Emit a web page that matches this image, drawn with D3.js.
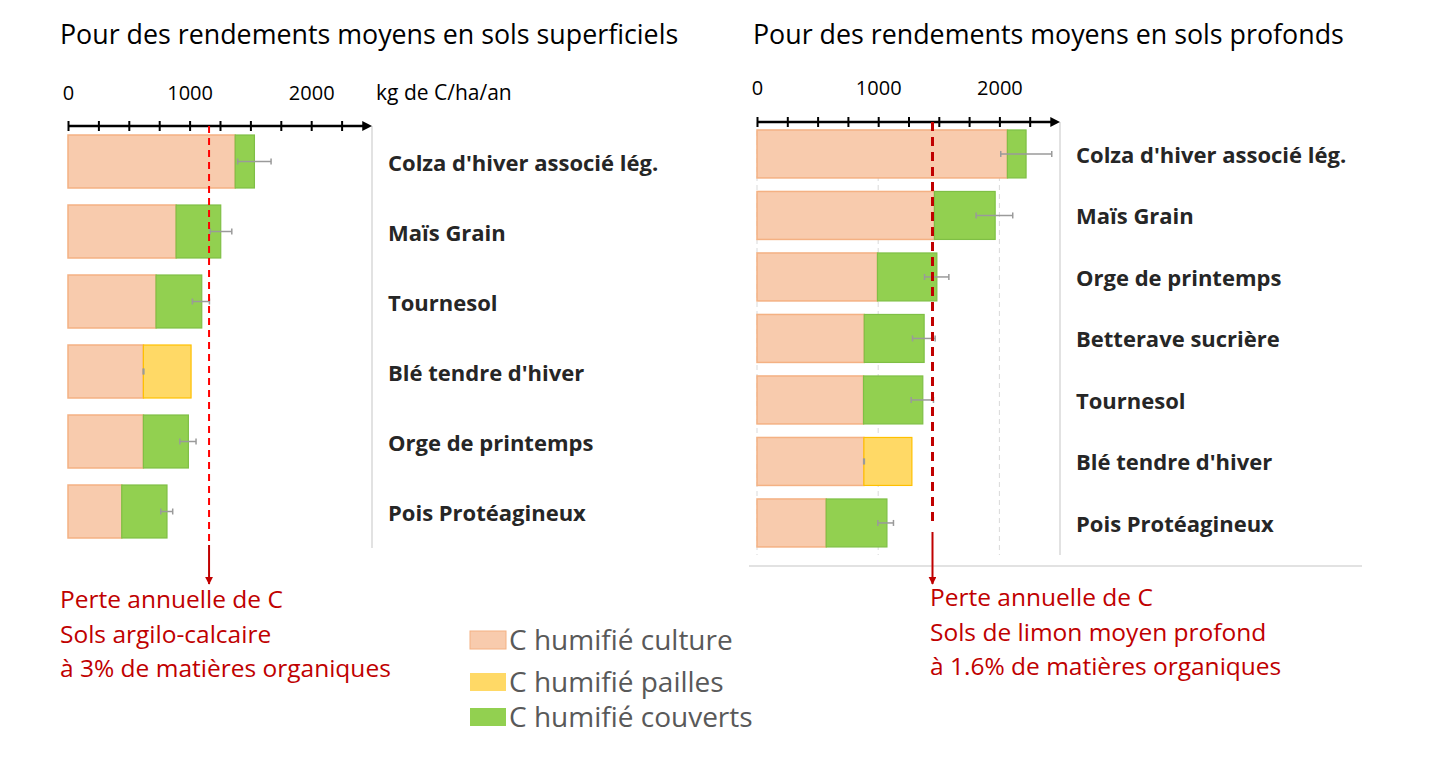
<!DOCTYPE html>
<html>
<head>
<meta charset="utf-8">
<script src="https://cdn.jsdelivr.net/npm/d3@7"></script>
<style>
  body { margin: 0; background: #fff; }
  text { font-family: "Open Sans", "Noto Sans", sans-serif; }
</style>
</head>
<body>
<div id="container"></div>
<script>
/* DATA */
const leftTitle = "Pour des rendements moyens en sols superficiels";
const rightTitle = "Pour des rendements moyens en sols profonds";
const unitLabel = "kg de C/ha/an";

const leftCrops = ["Colza d'hiver associé lég.", "Maïs Grain", "Tournesol", "Blé tendre d'hiver", "Orge de printemps", "Pois Protéagineux"];
const leftCulture = [1375, 889, 724, 620, 620, 442];
const leftPailles = [0, 0, 0, 392, 0, 0];
const leftCouverts = [158, 367, 376, 0, 370, 372];
const leftErrLow = [1395, 1169, 1023, 618, 920, 763];
const leftErrHigh = [1670, 1347, 1163, 624, 1053, 861];
const leftLoss = 1160;
const leftNote = ["Perte annuelle de C", "Sols argilo-calcaire", "à 3% de matières organiques"];

const rightCrops = ["Colza d'hiver associé lég.", "Maïs Grain", "Orge de printemps", "Betterave sucrière", "Tournesol", "Blé tendre d'hiver", "Pois Protéagineux"];
const rightCulture = [2066, 1464, 994, 885, 879, 882, 571];
const rightPailles = [0, 0, 0, 0, 0, 396, 0];
const rightCouverts = [154, 501, 490, 494, 489, 0, 501];
const rightErrLow = [2011, 1808, 1382, 1283, 1272, 880, 997];
const rightErrHigh = [2432, 2110, 1583, 1470, 1456, 886, 1126];
const rightLoss = 1448;
const rightNote = ["Perte annuelle de C", "Sols de limon moyen profond", "à 1.6% de matières organiques"];

const tickLabels = [0, 1000, 2000];
const minorTicks = d3.range(0, 2251, 250);
const legendLabels = ["C humifié culture", "C humifié pailles", "C humifié couverts"];

/* CONSTANTS */
const width = 1452, height = 764;
const colors = {
  culture: "#f8cbad", cultureStroke: "#f4b183",
  pailles: "#ffd966", paillesStroke: "#ffc000",
  couverts: "#92d050", couvertsStroke: "#7fbf45"
};

const svg = d3.select("#container")
  .append("svg")
  .attr("width", width)
  .attr("height", height);

svg.append("defs").append("marker")
  .attr("id", "arrowRed")
  .attr("viewBox", "0 0 10 10")
  .attr("refX", 9).attr("refY", 5)
  .attr("markerWidth", 4).attr("markerHeight", 4)
  .attr("orient", "auto")
  .append("path")
  .attr("d", "M0,0 L10,5 L0,10 z")
  .attr("fill", "#c00000");

function drawPanel(cfg) {
  const x = d3.scaleLinear().domain([0, 2500]).range([cfg.x0, cfg.x1]);
  const y = d3.scaleBand()
    .domain(cfg.crops)
    .range([cfg.yTop, cfg.yTop + cfg.step * cfg.crops.length])
    .paddingInner(cfg.pad)
    .paddingOuter(cfg.pad / 2);

  const g = svg.append("g");

  // title
  g.append("text")
    .attr("x", cfg.titleX).attr("y", 44)
    .attr("font-size", 26.8)
    .attr("fill", "#000")
    .text(cfg.title);

  // grid (right panel only)
  if (cfg.grid) {
    g.selectAll(".grid")
      .data(tickLabels)
      .join("line")
      .attr("x1", d => x(d)).attr("x2", d => x(d))
      .attr("y1", cfg.axisY).attr("y2", cfg.frameBottom)
      .attr("stroke", "#d9d9d9")
      .attr("stroke-dasharray", "5,4");
  }

  // frame line on the right
  g.append("line")
    .attr("x1", x(2500)).attr("x2", x(2500))
    .attr("y1", cfg.axisY).attr("y2", cfg.frameBottom)
    .attr("stroke", "#d9d9d9").attr("stroke-width", 1.5);

  if (cfg.hline) {
    g.append("line")
      .attr("x1", cfg.hline[0]).attr("x2", cfg.hline[1])
      .attr("y1", cfg.hline[2]).attr("y2", cfg.hline[2])
      .attr("stroke", "#d9d9d9").attr("stroke-width", 1.5);
  }

  // BARS
  const rows = cfg.crops.map((c, i) => ({
    crop: c,
    culture: cfg.culture[i],
    pailles: cfg.pailles[i],
    couverts: cfg.couverts[i],
    lo: cfg.errLow[i],
    hi: cfg.errHigh[i]
  }));

  const bar = g.selectAll(".row")
    .data(rows)
    .join("g")
    .attr("class", "row");

  bar.append("rect")
    .attr("x", x(0))
    .attr("y", d => y(d.crop))
    .attr("width", d => x(d.culture) - x(0))
    .attr("height", y.bandwidth())
    .attr("fill", colors.culture)
    .attr("stroke", colors.cultureStroke)
    .attr("stroke-width", 1.5);

  bar.filter(d => d.pailles > 0).append("rect")
    .attr("x", d => x(d.culture))
    .attr("y", d => y(d.crop))
    .attr("width", d => x(d.culture + d.pailles) - x(d.culture))
    .attr("height", y.bandwidth())
    .attr("fill", colors.pailles)
    .attr("stroke", colors.paillesStroke)
    .attr("stroke-width", 1.2);

  bar.filter(d => d.couverts > 0).append("rect")
    .attr("x", d => x(d.culture))
    .attr("y", d => y(d.crop))
    .attr("width", d => x(d.culture + d.couverts) - x(d.culture))
    .attr("height", y.bandwidth())
    .attr("fill", colors.couverts)
    .attr("stroke", colors.couvertsStroke)
    .attr("stroke-width", 1.2);

  // error bars
  const eb = bar.append("g")
    .attr("stroke", "#9a9a9a")
    .attr("stroke-width", 1.5);
  eb.append("line")
    .attr("x1", d => x(d.lo)).attr("x2", d => x(d.hi))
    .attr("y1", d => y(d.crop) + y.bandwidth() / 2)
    .attr("y2", d => y(d.crop) + y.bandwidth() / 2);
  ["lo", "hi"].forEach(k => {
    eb.append("line")
      .attr("x1", d => x(d[k])).attr("x2", d => x(d[k]))
      .attr("y1", d => y(d.crop) + y.bandwidth() / 2 - 3)
      .attr("y2", d => y(d.crop) + y.bandwidth() / 2 + 3);
  });

  // category labels
  g.selectAll(".cat")
    .data(cfg.crops)
    .join("text")
    .attr("class", "cat")
    .attr("x", cfg.labelX)
    .attr("y", d => y(d) + y.bandwidth() / 2 + cfg.labelShift)
    .attr("dy", "0.35em")
    .attr("font-size", 22)
    .attr("font-weight", "bold")
    .attr("fill", "#262626")
    .text(d => d);

  // AXIS with ticks crossing the line
  const axis = g.append("g")
    .attr("transform", `translate(0, ${cfg.axisY})`)
    .call(d3.axisTop(x).tickValues(minorTicks).tickFormat("").tickSize(5).tickSizeOuter(0));
  axis.select(".domain").remove();
  axis.selectAll(".tick line")
    .attr("y1", -5).attr("y2", 5)
    .attr("stroke", "#000").attr("stroke-width", 2);
  axis.append("line")
    .attr("x1", x(0)).attr("x2", x(2470))
    .attr("stroke", "#000").attr("stroke-width", 2.5);
  axis.append("path")
    .attr("d", `M${x(2420)},-5 L${x(2500)},0 L${x(2420)},5 Z`)
    .attr("fill", "#000");

  const labels = g.append("g")
    .attr("transform", `translate(0, ${cfg.axisY})`)
    .call(d3.axisTop(x).tickValues(tickLabels).tickFormat(d3.format("d")).tickSize(0).tickPadding(cfg.labelPad));
  labels.select(".domain").remove();
  labels.selectAll("text")
    .attr("font-size", 20)
    .attr("font-family", "Open Sans, sans-serif")
    .attr("fill", "#000");

  if (cfg.unit) {
    g.append("text")
      .attr("x", cfg.unitX).attr("y", cfg.axisY - cfg.labelPad)
      .attr("font-size", 21)
      .attr("fill", "#000")
      .text(cfg.unit);
  }

  // loss line
  g.append("line")
    .attr("x1", x(cfg.loss)).attr("x2", x(cfg.loss))
    .attr("y1", cfg.axisY).attr("y2", cfg.dashEnd)
    .attr("stroke", cfg.lossColor)
    .attr("stroke-width", cfg.lossWidth)
    .attr("stroke-dasharray", cfg.dash);
  g.append("line")
    .attr("x1", x(cfg.loss)).attr("x2", x(cfg.loss))
    .attr("y1", cfg.dashEnd + cfg.gap).attr("y2", 584)
    .attr("stroke", "#c00000")
    .attr("stroke-width", 2)
    .attr("marker-end", "url(#arrowRed)");

  g.selectAll(".note")
    .data(cfg.note)
    .join("text")
    .attr("class", "note")
    .attr("x", cfg.noteX)
    .attr("y", (d, i) => cfg.noteY + i * 34.5)
    .attr("font-size", 24.5)
    .attr("fill", "#c00000")
    .text(d => d);
}

drawPanel({
  title: leftTitle, titleX: 60,
  crops: leftCrops, culture: leftCulture, pailles: leftPailles, couverts: leftCouverts,
  errLow: leftErrLow, errHigh: leftErrHigh,
  x0: 68, x1: 372, yTop: 126.5, step: 70, pad: 0.243,
  axisY: 126, labelPad: 26, frameBottom: 548,
  labelX: 388, labelShift: 2, unit: unitLabel, unitX: 376,
  loss: leftLoss, lossColor: "#ff0000", lossWidth: 2, dash: "7,5", dashEnd: 545, gap: 0,
  note: leftNote, noteX: 60, noteY: 608, grid: false
});

drawPanel({
  title: rightTitle, titleX: 753,
  crops: rightCrops, culture: rightCulture, pailles: rightPailles, couverts: rightCouverts,
  errLow: rightErrLow, errHigh: rightErrHigh,
  x0: 757, x1: 1060, yTop: 123.2, step: 61.5, pad: 0.22,
  axisY: 122, labelPad: 27, frameBottom: 555,
  labelX: 1076, labelShift: 1, unit: null,
  loss: rightLoss, lossColor: "#c00000", lossWidth: 3, dash: "9,6", dashEnd: 522, gap: 10,
  note: rightNote, noteX: 930, noteY: 606, grid: true, hline: [749, 1362, 566]
});

// LEGEND
const legendKeys = ["culture", "pailles", "couverts"];
const legendY = [631, 673, 708];
const legend = svg.append("g");
legend.selectAll("rect")
  .data(legendKeys)
  .join("rect")
  .attr("x", 470)
  .attr("y", (d, i) => legendY[i])
  .attr("width", 36).attr("height", 18)
  .attr("fill", d => colors[d])
  .attr("stroke", d => d === "culture" ? colors.cultureStroke : "none");
legend.selectAll("text")
  .data(legendLabels)
  .join("text")
  .attr("x", 509)
  .attr("y", (d, i) => legendY[i] + 9)
  .attr("dy", "0.35em")
  .attr("font-size", 28)
  .attr("fill", "#595959")
  .text(d => d);
</script>
</body>
</html>
